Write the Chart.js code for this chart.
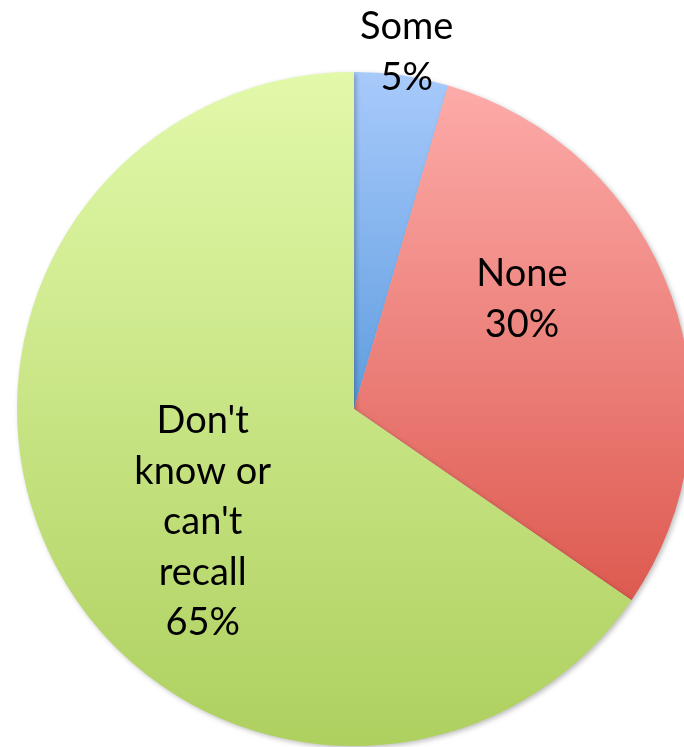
<!DOCTYPE html>
<html lang="en">
<head>
    <meta charset="UTF-8">
    <title>Recall pie</title>
    <script src="https://cdn.jsdelivr.net/npm/chart.js@4/dist/chart.umd.min.js"></script>
    <style>
        body { margin: 0; background: #fff; overflow: hidden; }
        .wrap { width: 684px; height: 747px; overflow: hidden; position: relative; }
        .box { position: absolute; left: 0; top: 0; width: 708px; height: 818px; }
    </style>
</head>
<body>
    <div class="wrap">
        <div class="box"><canvas id="pie"></canvas></div>
    </div>
    <script>
        // data (slice angles suggest unrounded shares)
        const categories = ['Some', 'None', "Don't know or can't recall"];
        const values = [4.5, 30.1, 65.4];
        const nameLines = [['Some'], ['None'], ["Don't", 'know or', "can't", 'recall']];

        // top / bottom gradient colours for each slice
        const topColors = ['#a8cafb', '#fdaba9', '#e2f9aa'];
        const bottomColors = ['#5f9de0', '#dd5a50', '#aed05f'];

        // label placement: [radius fraction, angle offset from slice middle (deg)]
        const labelPlace = [[1.07, 0.3], [0.595, -13.5], [0.56, -9]];

        function sliceGradient(context) {
            const chart = context.chart;
            const area = chart.chartArea;
            if (!area) return topColors[context.dataIndex];
            const i = context.dataIndex;
            const total = values.reduce((a, b) => a + b, 0);
            let before = 0;
            for (let k = 0; k < i; k++) before += values[k];
            const a0 = -Math.PI / 2 + before / total * 2 * Math.PI;
            const a1 = a0 + values[i] / total * 2 * Math.PI;
            const cx = (area.left + area.right) / 2;
            const cy = (area.top + area.bottom) / 2;
            const r = Math.min(area.width, area.height) / 2;
            let minY = cy, maxY = cy;
            for (let s = 0; s <= 60; s++) {
                const a = a0 + (a1 - a0) * s / 60;
                const y = cy + r * Math.sin(a);
                minY = Math.min(minY, y);
                maxY = Math.max(maxY, y);
            }
            const g = chart.ctx.createLinearGradient(0, minY, 0, maxY);
            g.addColorStop(0, topColors[i]);
            g.addColorStop(1, bottomColors[i]);
            return g;
        }

        const sliceLabels = {
            id: 'sliceLabels',
            afterDatasetsDraw(chart) {
                const ctx = chart.ctx;
                const arcs = chart.getDatasetMeta(0).data;
                const total = values.reduce((a, b) => a + b, 0);
                ctx.save();
                ctx.fillStyle = '#000';
                ctx.font = '38px Lato, "Noto Sans", sans-serif';
                ctx.textAlign = 'center';
                ctx.textBaseline = 'middle';
                arcs.forEach((arc, i) => {
                    const mid = (arc.startAngle + arc.endAngle) / 2 + labelPlace[i][1] * Math.PI / 180;
                    const rr = arc.outerRadius * labelPlace[i][0];
                    const x = arc.x + rr * Math.cos(mid);
                    const y = arc.y + rr * Math.sin(mid);
                    const lines = nameLines[i].concat([Math.round(values[i] / total * 100) + '%']);
                    const lh = 50.5;
                    lines.forEach((t, j) => {
                        ctx.fillText(t, x, y + (j - (lines.length - 1) / 2) * lh);
                    });
                });
                ctx.restore();
            }
        };

        const shadow = {
            id: 'shadow',
            beforeDatasetsDraw(chart) {
                const ctx = chart.ctx;
                ctx.save();
                ctx.shadowColor = 'rgba(0,0,0,0.25)';
                ctx.shadowBlur = 5;
                ctx.shadowOffsetX = 2;
                ctx.shadowOffsetY = 2;
            },
            afterDatasetsDraw(chart) {
                chart.ctx.restore();
            }
        };

        new Chart(document.getElementById('pie'), {
            type: 'pie',
            data: {
                labels: categories,
                datasets: [{
                    data: values,
                    backgroundColor: sliceGradient,
                    borderWidth: 0
                }]
            },
            options: {
                responsive: true,
                maintainAspectRatio: false,
                animation: false,
                layout: { padding: { left: 17, right: 17, top: 72, bottom: 72 } },
                plugins: {
                    legend: { display: false },
                    tooltip: { enabled: false }
                }
            },
            plugins: [shadow, sliceLabels]
        });
    </script>
</body>
</html>
